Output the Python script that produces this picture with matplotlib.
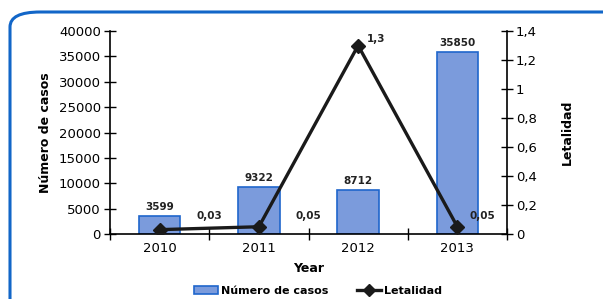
import numpy as np
import matplotlib.pyplot as plt
from matplotlib.patches import FancyBboxPatch
from matplotlib.lines import Line2D
from matplotlib.patches import Patch

# data
years = ["2010", "2011", "2012", "2013"]
casos = [3599, 9322, 8712, 35850]
letalidad = [0.03, 0.05, 1.3, 0.05]
let_labels = ["0,03", "0,05", "1,3", "0,05"]

bar_face = "#7b9bdc"
bar_edge = "#1f66cc"
frame_blue = "#1266c8"

fig = plt.figure(figsize=(6.03, 2.99), dpi=100)

# rounded frame, cut off at right and bottom
frame = FancyBboxPatch((10 / 603, -0.2), 1.2, 1.2 - 12 / 299,
                       boxstyle="round,pad=0,rounding_size=0.05",
                       transform=fig.transFigure, fill=False,
                       edgecolor=frame_blue, linewidth=2.2, zorder=0)
fig.patches.append(frame)

ax = fig.add_axes([110 / 603, 65 / 299, 397 / 603, 203 / 299])
x = np.arange(len(years))

ax.bar(x, casos, width=0.42, color=bar_face, edgecolor=bar_edge, linewidth=1.2, zorder=2)
for xi, v in zip(x, casos):
    ax.annotate(str(v), (xi, v), xytext=(0, 3), textcoords="offset points",
                ha="center", va="bottom", fontsize=7.5, fontweight="bold",
                color="#222222")

ax.set_xlim(-0.5, 3.5)
ax.set_ylim(0, 40000)
ax.set_yticks(np.arange(0, 40001, 5000))
ax.set_xticks(x)
ax.set_xticklabels(years)
ax.set_xticks(np.arange(-0.5, 3.6, 1), minor=True)
ax.tick_params(axis="x", which="major", length=0, labelsize=9.5, pad=6)
ax.tick_params(axis="x", which="minor", direction="inout", length=9, width=1)
ax.tick_params(axis="y", direction="inout", length=9, width=1, labelsize=9.5, pad=2)
for s in ["top", "right"]:
    ax.spines[s].set_visible(False)
ax.spines["left"].set_linewidth(1.2)
ax.spines["bottom"].set_linewidth(1.2)
ax.set_ylabel("Número de casos", fontsize=9, fontweight="bold", labelpad=5)
ax.set_xlabel("Year", fontsize=9, fontweight="bold", labelpad=5)

ax2 = ax.twinx()
ax2.plot(x, letalidad, color="#1a1a1a", linewidth=2.4, marker="D", markersize=7, zorder=3)
ax2.set_ylim(0, 1.4)
ax2.set_yticks(np.arange(0, 1.41, 0.2))
ax2.set_yticklabels(["0", "0,2", "0,4", "0,6", "0,8", "1", "1,2", "1,4"])
ax2.tick_params(axis="y", direction="inout", length=9, width=1, labelsize=9.5, pad=2)
for s in ["top", "left", "bottom"]:
    ax2.spines[s].set_visible(False)
ax2.spines["right"].set_linewidth(1.2)
ax2.set_ylabel("Letalidad", fontsize=9, fontweight="bold", labelpad=17)

# line value labels (placed as in the original)
label_pos = [(0.5, 0.09), (1.5, 0.09), (2.18, 1.31), (3.25, 0.09)]
for (px, py), t in zip(label_pos, let_labels):
    ax2.text(px, py, t, ha="center", va="bottom", fontsize=7.5, fontweight="bold",
             color="#222222")

handles = [Patch(facecolor=bar_face, edgecolor=bar_edge, linewidth=1.2),
           Line2D([0], [0], color="#1a1a1a", linewidth=2.4, marker="D", markersize=6)]
fig.legend(handles, ["Número de casos", "Letalidad"], ncol=2, frameon=False,
           loc="center", bbox_to_anchor=(318 / 603, 8 / 299),
           prop={"size": 8, "weight": "bold"}, handlelength=2.2,
           handletextpad=0.3, columnspacing=2.5)

fig.savefig("out.png", dpi=100)
